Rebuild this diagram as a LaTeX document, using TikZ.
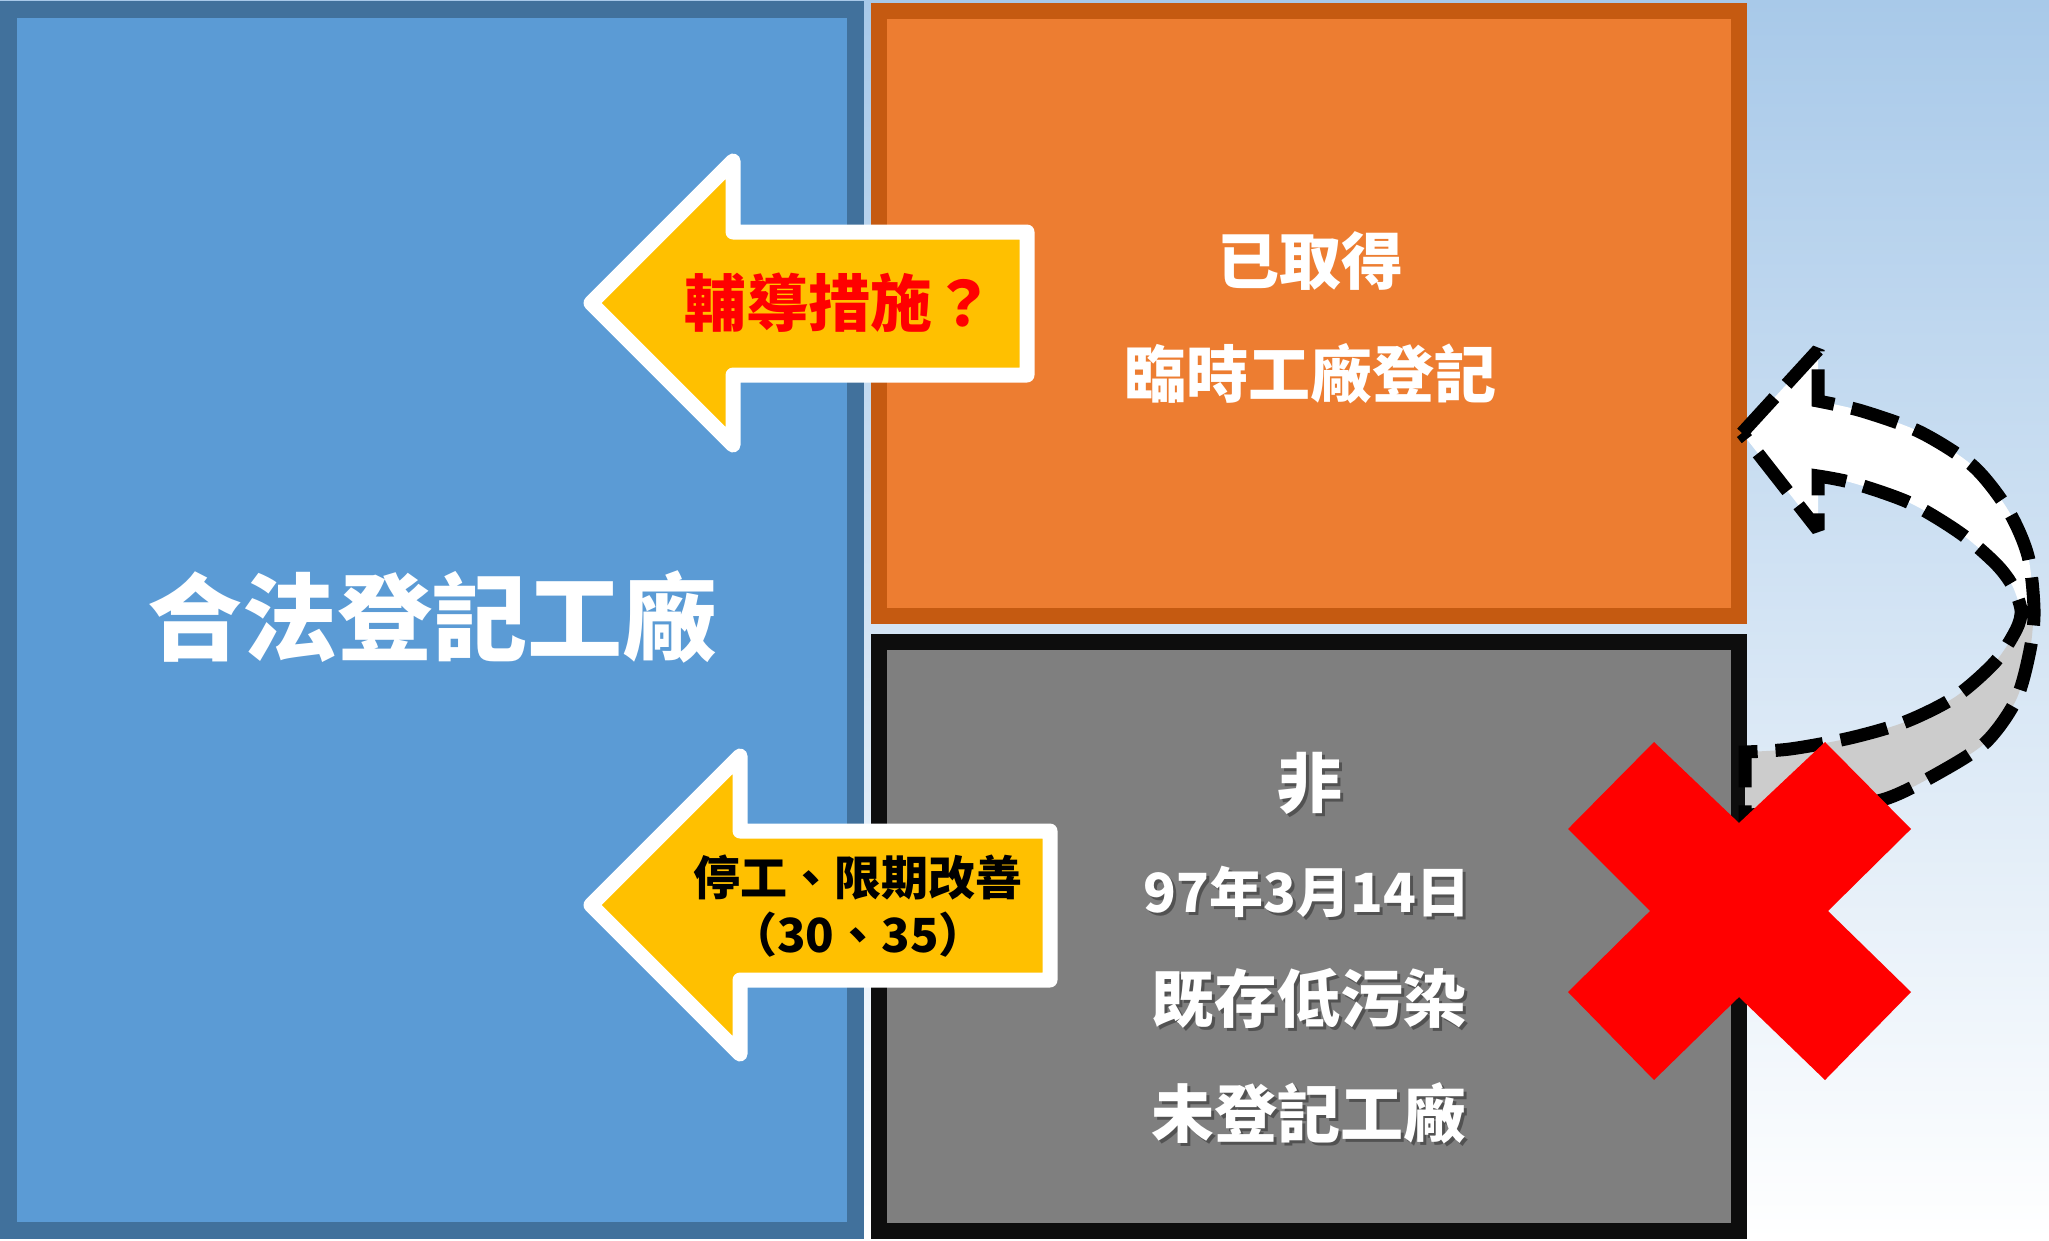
\documentclass[tikz,border=0pt]{standalone}
\usepackage{fontspec}
\setmainfont{Noto Sans CJK TC}
\usetikzlibrary{shapes.geometric}
\definecolor{bgtop}{RGB}{168,201,233}
\definecolor{bluefill}{HTML}{5B9BD5}
\definecolor{blueline}{HTML}{41719C}
\definecolor{orangefill}{HTML}{ED7D31}
\definecolor{orangeline}{HTML}{C55A11}
\definecolor{greyfill}{HTML}{7F7F7F}
\definecolor{greyline}{HTML}{0D0D0D}
\definecolor{yellowfill}{HTML}{FFC000}
\definecolor{bandgrey}{HTML}{CCCCCC}
\definecolor{xred}{HTML}{FF0000}
\tikzset{
  panel/.style={draw, rectangle, inner sep=0pt},
  blockarrow/.style={draw=white, fill=yellowfill, line width=15pt, line join=round},
  lbl/.style={inner sep=0pt, font=\bfseries},
  shadowlbl/.style={inner sep=0pt, font=\bfseries, text=black, opacity=0.35},
  dashline/.style={draw=black, line width=13pt, dash pattern=on 48pt off 18pt, line join=miter, miter limit=1.6},
}
\begin{document}
\begin{tikzpicture}[x=1pt, y=-1pt]
\useasboundingbox (0,0) rectangle (2049,1240);
\shade[top color=bgtop, bottom color=white] (0,0) rectangle (2049,1240);

% panels
\node[panel, draw=blueline, fill=bluefill, line width=17pt, minimum width=847pt, minimum height=1221pt] (legal) at (432,620) {};
\node[panel, draw=orangeline, fill=orangefill, line width=16pt, minimum width=860pt, minimum height=605pt] (temp) at (1309,313.5) {};
\node[panel, draw=greyline, fill=greyfill, line width=16pt, minimum width=860pt, minimum height=589pt] (unreg) at (1309,936.5) {};

% yellow block arrows
\draw[blockarrow] (591,303) -- (733,161) -- (733,232) -- (1027,232) -- (1027,375) -- (733,375) -- (733,445) -- cycle;
\draw[blockarrow] (591,905) -- (740,756) -- (740,831) -- (1050,831) -- (1050,980) -- (740,980) -- (740,1054) -- cycle;

% texts
\node[lbl, text=white, font=\bfseries\fontsize{95}{100}\selectfont] (legaltxt) at (432,617) {合法登記工廠};
\node[lbl, text=xred, font=\bfseries\fontsize{62}{66}\selectfont] (help) at (839,303) {輔導措施？};
\node[lbl, text=black, font=\bfseries\fontsize{47}{50}\selectfont] (stopa) at (858,877) {停工、限期改善};
\node[lbl, text=black, font=\bfseries\fontsize{47}{50}\selectfont] (stopb) at (858,935) {（30、35）};
\node[lbl, text=white, font=\bfseries\fontsize{62}{66}\selectfont] (ta) at (1310,261) {已取得};
\node[lbl, text=white, font=\bfseries\fontsize{62}{66}\selectfont] (tb) at (1310,374) {臨時工廠登記};

\node[shadowlbl, font=\bfseries\fontsize{65}{68}\selectfont] (gas) at (1313,786) {非};
\node[shadowlbl, font=\bfseries\fontsize{54}{58}\selectfont] (gbs) at (1310,895) {97年3月14日};
\node[shadowlbl, font=\bfseries\fontsize{63}{66}\selectfont] (gcs) at (1312,1001) {既存低污染};
\node[shadowlbl, font=\bfseries\fontsize{63}{66}\selectfont] (gds) at (1312,1116) {未登記工廠};
\node[lbl, text=white, font=\bfseries\fontsize{65}{68}\selectfont] (ga) at (1310,783) {非};
\node[lbl, text=white, font=\bfseries\fontsize{54}{58}\selectfont] (gb) at (1307,892) {97年3月14日};
\node[lbl, text=white, font=\bfseries\fontsize{63}{66}\selectfont] (gc) at (1309,998) {既存低污染};
\node[lbl, text=white, font=\bfseries\fontsize{63}{66}\selectfont] (gd) at (1309,1113) {未登記工廠};

% curved arrow: front (white) part
\fill[white] (1742,433) -- (1818,350) -- (1818,401)
  -- plot[smooth] coordinates {(1818,401) (1862,411) (1920,432) (1973,466) (2008,510) (2028,556) (2034,610)}
  -- plot[smooth] coordinates {(2021,610) (2012,585) (1995,563) (1960,533) (1910,503) (1853,483) (1818,476)}
  -- (1818,530) -- cycle;
% back (grey) part
\fill[bandgrey] (2034,610)
  -- plot[smooth] coordinates {(2034,610) (2030,650) (2016,700) (1985,743) (1935,775) (1885,799) (1820,811) (1745,815)}
  -- (1745,752)
  -- plot[smooth] coordinates {(1745,752) (1790,749) (1850,738) (1905,722) (1955,697) (1995,662) (2016,630) (2021,610)}
  -- cycle;
% dashed outline
\draw[dashline] (1742,433) -- (1818,350) -- (1818,401)
  -- plot[smooth] coordinates {(1818,401) (1862,411) (1920,432) (1973,466) (2008,510) (2028,556) (2034,610) (2030,650) (2016,700) (1985,743) (1935,775) (1885,799) (1820,811) (1745,815)}
  -- (1745,752)
  -- plot[smooth] coordinates {(1745,752) (1790,749) (1850,738) (1905,722) (1955,697) (1995,662) (2016,630) (2021,610) (2012,585) (1995,563) (1960,533) (1910,503) (1853,483) (1818,476)}
  -- (1818,530) -- cycle;

% red cross
\fill[xred] (1654,742) -- (1739,823) -- (1825,742) -- (1911,829) -- (1828,911) -- (1911,992)
  -- (1825,1080) -- (1739,997) -- (1654,1080) -- (1568,992) -- (1650,911) -- (1568,829) -- cycle;
\end{tikzpicture}
\end{document}
